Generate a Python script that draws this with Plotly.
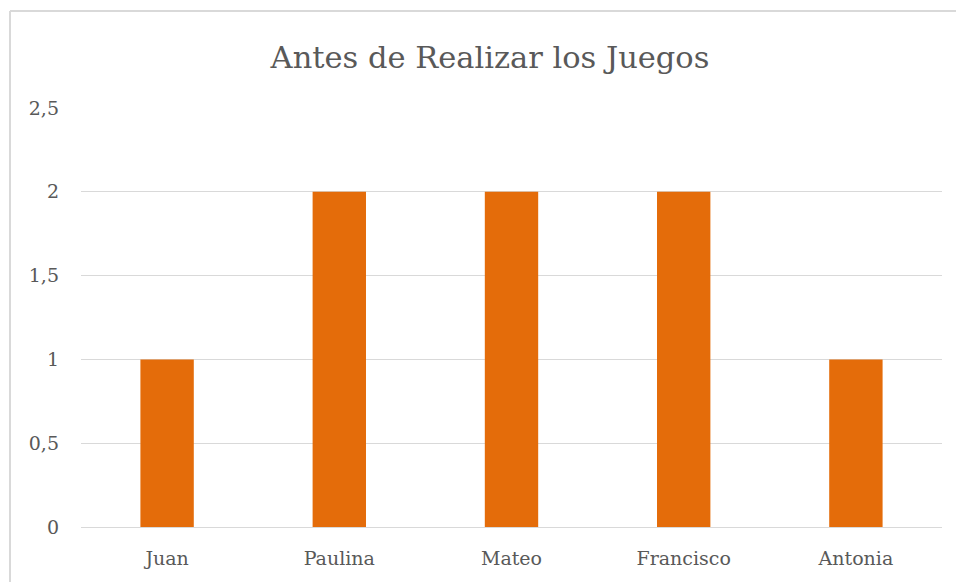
import plotly.graph_objects as go

names = ["Juan", "Paulina", "Mateo", "Francisco", "Antonia"]
values = [1, 2, 2, 2, 1]
y_ticks = [0, 0.5, 1, 1.5, 2, 2.5]
y_tick_labels = ["0", "0,5", "1", "1,5", "2", "2,5"]

FONT = "DejaVu Serif"
TEXT = "#595959"
GRID = "#d9d9d9"

W, H = 956, 582
L, R, T, B = 81, 14, 108, 55
pw, ph = W - L - R, H - T - B

fig = go.Figure(go.Bar(x=names, y=values, marker_color="#E46C0A", marker_line_width=0))

fx = (10 - L) / pw
fy = (H - B - 11) / ph
fig.add_shape(type="line", xref="paper", yref="paper", x0=fx, x1=fx, y0=-0.5, y1=fy,
              line=dict(color=GRID, width=2))
fig.add_shape(type="line", xref="paper", yref="paper", x0=fx, x1=1.5, y0=fy, y1=fy,
              line=dict(color=GRID, width=2))

fig.update_layout(
    width=W, height=H,
    margin=dict(l=L, r=R, t=T, b=B),
    paper_bgcolor="white", plot_bgcolor="white",
    bargap=0.69,
    showlegend=False,
    title=dict(text="Antes de Realizar los Juegos", x=490 / W, xanchor="center",
               xref="container", y=1 - 57 / H, yref="container", yanchor="middle",
               font=dict(family=FONT, size=30.5, color=TEXT)),
    font=dict(family=FONT, color=TEXT, size=19),
    xaxis=dict(showline=True, linecolor=GRID, linewidth=1, ticks="", ticklabelstandoff=14,
               tickfont=dict(size=19, color=TEXT)),
    yaxis=dict(range=[0, 2.5], tickvals=y_ticks, ticktext=y_tick_labels, showgrid=True,
               gridcolor=GRID, gridwidth=1, zeroline=False, ticks="", ticklabelstandoff=21,
               tickfont=dict(size=19, color=TEXT)),
)

fig.write_html("out.html", config={"displayModeBar": False},
               post_script="document.body.style.margin='0';document.body.style.overflow='hidden';")
